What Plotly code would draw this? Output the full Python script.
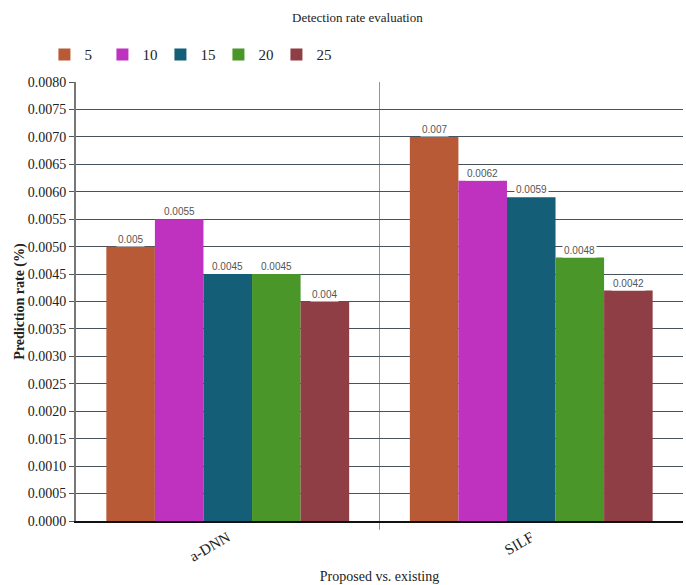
import plotly.graph_objects as go

categories = ["a-DNN", "SILF"]
series_names = ["5", "10", "15", "20", "25"]
values_5 = [0.005, 0.007]
values_10 = [0.0055, 0.0062]
values_15 = [0.0045, 0.0059]
values_20 = [0.0045, 0.0048]
values_25 = [0.004, 0.0042]
series_values = [values_5, values_10, values_15, values_20, values_25]
colors = ["#B95A36", "#BF31BF", "#145E78", "#4A9629", "#8E3E44"]

serif = "Liberation Serif"

fig = go.Figure()
for name, vals, col in zip(series_names, series_values, colors):
    fig.add_trace(go.Bar(
        x=categories, y=vals, name=name,
        marker=dict(color=col, line=dict(width=0)),
    ))

# value labels with white boxes sitting on top of each bar
n = len(series_names)
group_w = 0.8
slot = group_w / n
annotations = []
for i, vals in enumerate(series_values):
    for ci, v in enumerate(vals):
        xpos = ci - group_w / 2 + slot * (i + 0.5)
        annotations.append(dict(
            x=xpos, y=v, xref="x", yref="y", text=f"{v:g}",
            showarrow=False, yanchor="bottom", yshift=0,
            bgcolor="white", borderpad=1,
            font=dict(family="Liberation Sans", size=10, color="#555"),
        ))

fig.update_layout(
    width=686, height=585,
    margin=dict(l=76, r=3, t=82, b=60),
    paper_bgcolor="white", plot_bgcolor="white",
    barmode="group", bargap=0.2, bargroupgap=0,
    title=dict(text="Detection rate evaluation", x=0.521, xanchor="center",
               y=0.97, yanchor="middle",
               font=dict(family=serif, size=13, color="#222")),
    legend=dict(orientation="h", x=-0.052, xanchor="left", y=1.062, yanchor="middle",
                font=dict(family=serif, size=15, color="#222"),
                entrywidth=13, entrywidthmode="pixels", itemwidth=30,
                traceorder="normal"),
    annotations=annotations,
    font=dict(family=serif, color="#222"),
    shapes=[dict(type="line", xref="x", yref="paper", x0=0.5, x1=0.5,
                 y0=-0.02, y1=1, line=dict(color="#8A9AA5", width=1), layer="below")],
)

fig.update_yaxes(
    range=[0, 0.008], dtick=0.0005, tickformat=".4f",
    showgrid=True, gridcolor="#46525C", gridwidth=1,
    showline=True, linecolor="#777", linewidth=2,
    ticks="outside", ticklen=5, tickcolor="#555",
    tickfont=dict(family=serif, size=14, color="#222"),
    title=dict(text="<b>Prediction rate (%)</b>", font=dict(family=serif, size=14, color="#222"),
               standoff=0),
    zeroline=False,
)
fig.update_xaxes(
    showline=True, linecolor="#111", linewidth=2,
    tickangle=-30, tickfont=dict(family=serif, size=15, color="#222"),
    title=dict(text="Proposed vs. existing", font=dict(family=serif, size=14, color="#222"),
               standoff=8),
    showgrid=False,
)

fig.write_html("out.html")
